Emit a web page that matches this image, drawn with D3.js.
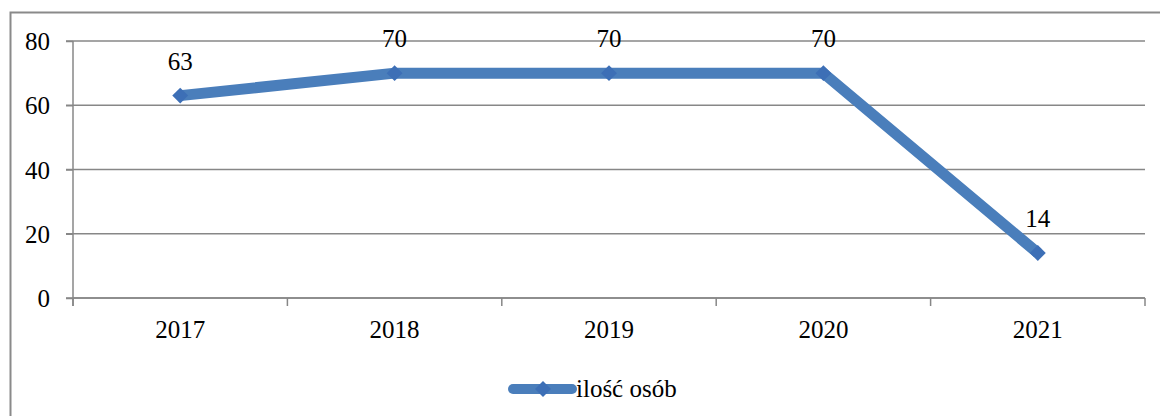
<!DOCTYPE html>
<html lang="pl">
<head>
    <meta charset="UTF-8">
    <title>ilość osób</title>
    <style>
        body { margin: 0; background: #fff; font-family: 'Liberation Serif'; }
        svg text { font-family: 'Liberation Serif'; fill: #000; }
        .grid line { stroke: #878787; stroke-width: 1.5px; }
        .axis path, .axis line { stroke: #878787; stroke-width: 1.5px; }
    </style>
    <script src="https://d3js.org/d3.v7.min.js"></script>
</head>
<body>
<script>
    const years = ["2017", "2018", "2019", "2020", "2021"];
    const values = [63, 70, 70, 70, 14];
    const yTicks = [0, 20, 40, 60, 80];
    const seriesName = "ilość osób";

    const width = 1160, height = 416;
    const margin = { top: 41, right: 15, bottom: 118, left: 73 };
    const lineColor = "#4a7ebb";
    const fontSize = 25;

    const svg = d3.select("body").append("svg")
        .attr("width", width).attr("height", height);

    // outer chart frame (extends past the right/bottom edges)
    svg.append("rect")
        .attr("x", 10.5).attr("y", 12.5)
        .attr("width", width).attr("height", height)
        .attr("fill", "none").attr("stroke", "#8a8a8a").attr("stroke-width", 2);

    const x = d3.scaleBand().domain(years)
        .range([margin.left, width - margin.right]);
    const y = d3.scaleLinear().domain([0, 80])
        .range([height - margin.bottom, margin.top]);

    // horizontal gridlines
    svg.append("g").attr("class", "grid")
        .selectAll("line").data(yTicks).enter().append("line")
        .attr("x1", margin.left - 7).attr("x2", width - margin.right)
        .attr("y1", d => y(d)).attr("y2", d => y(d));

    // y axis
    const yAxis = svg.append("g").attr("class", "axis")
        .attr("transform", `translate(${margin.left},0)`)
        .call(d3.axisLeft(y).tickValues(yTicks).tickSize(7).tickSizeOuter(0))
        .attr("font-family", null).attr("font-size", fontSize);
    yAxis.selectAll("text").attr("dx", "-13").attr("dy", "0.34em");
    yAxis.select(".domain").attr("d", `M0,${y(80)}V${y(0) + 8}`);

    // x axis with ticks between categories
    const xAxis = svg.append("g").attr("class", "axis")
        .attr("transform", `translate(0,${y(0)})`);
    xAxis.append("line")
        .attr("x1", margin.left).attr("x2", width - margin.right);
    const bounds = years.map(d => x(d)).concat([x(years[years.length - 1]) + x.bandwidth()]);
    xAxis.selectAll(".tk").data(bounds).enter().append("line")
        .attr("x1", d => d).attr("x2", d => d)
        .attr("y1", 0).attr("y2", 8);
    xAxis.selectAll(".lbl").data(years).enter().append("text")
        .attr("x", d => x(d) + x.bandwidth() / 2)
        .attr("y", 40)
        .attr("text-anchor", "middle")
        .attr("font-size", fontSize)
        .text(d => d);

    const pts = years.map((d, i) => ({ year: d, value: values[i] }));
    const cx = d => x(d.year) + x.bandwidth() / 2;

    // series line
    svg.append("path").datum(pts)
        .attr("fill", "none")
        .attr("stroke", lineColor)
        .attr("stroke-width", 11)
        .attr("stroke-linejoin", "miter")
        .attr("d", d3.line().x(cx).y(d => y(d.value)));

    // diamond markers
    const diamond = d3.symbol().type(d3.symbolDiamond2).size(160);
    svg.selectAll(".marker").data(pts).enter().append("path")
        .attr("transform", d => `translate(${cx(d)},${y(d.value)})`)
        .attr("d", diamond)
        .attr("fill", "#3d6fb6");

    // data labels
    svg.selectAll(".dl").data(pts).enter().append("text")
        .attr("x", cx)
        .attr("y", d => y(d.value) - 26)
        .attr("text-anchor", "middle")
        .attr("font-size", fontSize)
        .text(d => d.value);

    // legend
    const lg = svg.append("g").attr("transform", "translate(513,389)");
    lg.append("line")
        .attr("x1", 0).attr("x2", 59)
        .attr("stroke", lineColor).attr("stroke-width", 10)
        .attr("stroke-linecap", "round");
    lg.append("path")
        .attr("transform", "translate(30,0)")
        .attr("d", diamond)
        .attr("fill", "#3d6fb6");
    lg.append("text")
        .attr("x", 63).attr("y", 8)
        .attr("font-size", fontSize)
        .text(seriesName);
</script>
</body>
</html>
